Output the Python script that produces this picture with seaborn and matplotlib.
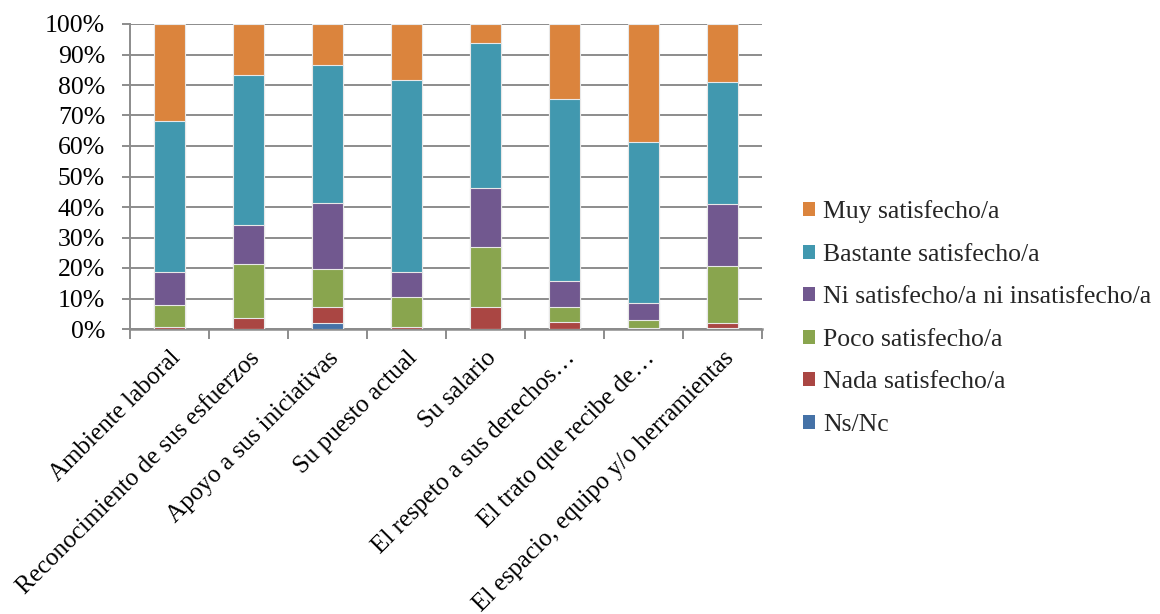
import numpy as np
import pandas as pd
import matplotlib
matplotlib.use("Agg")
import matplotlib.pyplot as plt
import seaborn as sns
from matplotlib.patches import Patch
from matplotlib.ticker import FixedLocator, PercentFormatter

categories = ["Ambiente laboral", "Reconocimiento de sus esfuerzos", "Apoyo a sus iniciativas",
              "Su puesto actual", "Su salario", "El respeto a sus derechos…",
              "El trato que recibe de…", "El espacio, equipo y/o herramientas"]

ns_nc     = [0.0, 0.0, 1.9, 0.0, 0.0, 0.0, 0.0, 0.3]
nada      = [0.5, 3.7, 5.4, 0.5, 7.3, 2.4, 0.3, 1.6]
poco      = [7.4, 17.6, 12.3, 10.0, 19.5, 4.9, 2.7, 18.8]
ni        = [10.9, 12.8, 21.8, 8.3, 19.5, 8.5, 5.4, 20.2]
bastante  = [49.4, 49.2, 45.1, 62.7, 47.6, 59.7, 53.0, 40.1]
muy       = [31.8, 16.7, 13.5, 18.5, 6.1, 24.5, 38.6, 19.0]

series_names = ["Ns/Nc", "Nada satisfecho/a", "Poco satisfecho/a",
                "Ni satisfecho/a ni insatisfecho/a", "Bastante satisfecho/a", "Muy satisfecho/a"]
series_vals = [ns_nc, nada, poco, ni, bastante, muy]
colors = ["#4572A7", "#AA4643", "#89A54E", "#71588F", "#4198AF", "#DB843D"]

sns.set_theme(style="white")
plt.rcParams["font.family"] = ["Liberation Serif", "DejaVu Serif"]

FS = 18.5

fig = plt.figure(figsize=(11.6, 6.14), dpi=100)
ax = fig.add_axes([130/1160, 1-329/614, (762-130)/1160, (329-24)/614])

# normalize to 100 and stack
arr = np.array(series_vals, dtype=float)
arr = arr / arr.sum(axis=0) * 100
cum = np.cumsum(arr, axis=0)

for i in range(len(series_names) - 1, -1, -1):
    df = pd.DataFrame({"cat": categories, "val": cum[i]})
    sns.barplot(data=df, x="cat", y="val", color=colors[i], width=0.39,
                saturation=1, edgecolor="#e8e8e8", linewidth=0.8, ax=ax, zorder=3)

ax.set_xlim(-0.5, len(categories) - 0.5)
ax.set_ylim(0, 100)
ax.set_xlabel("")
ax.set_ylabel("")
ax.yaxis.set_major_locator(FixedLocator(np.arange(0, 101, 10)))
ax.yaxis.set_major_formatter(PercentFormatter(decimals=0))
ax.grid(axis="y", color="#8c8c8c", linewidth=1.4, zorder=0)
ax.set_axisbelow(True)

for s in ["top", "right"]:
    ax.spines[s].set_visible(False)
ax.spines["left"].set_color("#8c8c8c")
ax.spines["left"].set_linewidth(1.4)
ax.spines["bottom"].set_color("#8c8c8c")
ax.spines["bottom"].set_linewidth(1.8)

ax.tick_params(axis="y", which="major", left=True, length=6, width=1.4, color="#8c8c8c",
               labelsize=FS, pad=12, labelcolor="black")
ax.set_xticks(range(len(categories)))
ax.set_xticks(np.arange(-0.5, len(categories), 1), minor=True)
ax.tick_params(axis="x", which="major", length=0, pad=13, labelsize=18, labelcolor="black")
ax.tick_params(axis="x", which="minor", bottom=True, length=7, width=1.4, color="#8c8c8c")
ax.set_xticklabels(categories, rotation=45, ha="right", rotation_mode="anchor")

handles = [Patch(facecolor=colors[i], edgecolor="none") for i in range(len(series_names) - 1, -1, -1)]
labels = [series_names[i] for i in range(len(series_names) - 1, -1, -1)]
fig.legend(handles, labels, loc="upper left", bbox_to_anchor=(793/1160, 1-190/614),
           frameon=False, fontsize=FS, handlelength=0.47, handleheight=0.47,
           handletextpad=0.3, labelspacing=0.8, borderaxespad=0)

fig.savefig("out.png", dpi=100)
